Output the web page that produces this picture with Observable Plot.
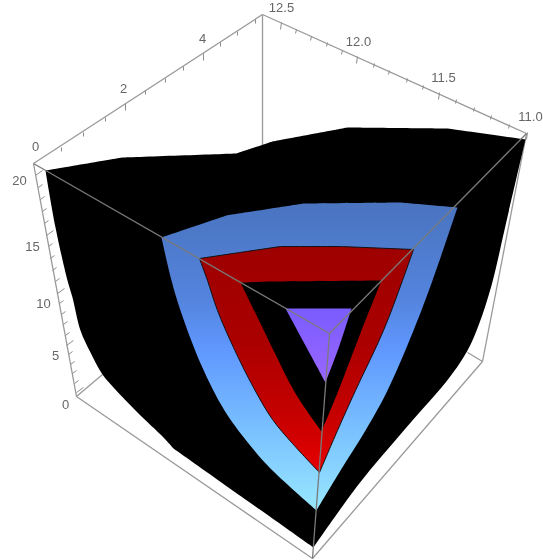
<!DOCTYPE html>
<html>
<head>
<meta charset="utf-8">
<script src="https://cdn.jsdelivr.net/npm/d3@7"></script>
<script src="https://cdn.jsdelivr.net/npm/@observablehq/plot@0.6"></script>
<style>
html,body{margin:0;padding:0;background:#fff}
svg{display:block;filter:blur(0.35px)}
</style>
</head>
<body>
<div id="chart"></div>
<script>
// Vertices read from the picture of the projected 3D box. Each outline is a list of
// smooth sides; the points where two sides meet stay sharp.
const blackSides = [
  [[45,170],[122,157]],[[122,157],[236,153]],[[236,153],[272,141]],[[272,141],[347,127]],[[347,127],[447,128]],[[447,128],[525,139]],
  [[525,139],[505,225],[491,285],[478,325],[467,350],[449,377],[405,428],[358,484],[313,547]],
  [[313,547],[272,518],[173,448]],[[173,448],[163,437],[137,412],[113,387],[102,374],[90,352],[80,330],[72,297],[67,280],[55,227],[45,170]]
];
const blueSides = [
  [[161,237],[226,215]],[[226,215],[303,203]],[[303,203],[400,202]],[[400,202],[457,207]],
  [[457,207],[432,280],[413,330],[387,390],[365,430],[340,470],[316,510]],
  [[316,510],[272,470],[253,449],[224,410],[201,365],[181,313],[171,280],[161,237]]
];
const redSides = [
  [[199,258],[280,246]],[[280,246],[340,246]],[[340,246],[413,249]],
  [[413,249],[402,280],[383,330],[355,390],[337,430],[319,472]],
  [[319,472],[292,443],[272,419],[253,387],[233,347],[217,310],[207,280],[199,258]]
];
const innerSides = [
  [[240,282],[270,281]],[[270,281],[381,280]],
  [[381,280],[361,330],[338,390],[321,431]],
  [[321,431],[295,393],[274,352],[260,323],[240,282]]
];
const purpleSides = [
  [[285,308],[351,308]],
  [[351,308],[339,345],[325,382]],
  [[325,382],[305,345],[285,308]]
];

const backEdges = [
  [[262,14],[262,146]],
  [[76,396],[102,374]],
  [[482,361],[467,352]],
  [[33,163],[76,396]],
  [[33,163],[262,14]],
  [[262,14],[526,133]],
  [[76,396],[312,558]],
  [[312,558],[482,361]],
  [[482,361],[526,133]]
];
const frontEdges = [
  [[33,163],[329,333]],
  [[526,133],[329,333]],
  [[329,333],[312,558]]
];

const leftAxisMajor = [[125,103],[203,53]];
const leftAxisMinor = [[61,147],[83,132],[105,117],[145,90],[165,78],[183,66],[220,42],[237,31],[255,19]];
const rightAxisMajor = [[281,22],[357,56],[439,92],[527,132]];
const rightAxisMinor = [[296,29],[311,36],[327,42],[342,50],[374,63],[389,70],[407,78],[423,85],[456,99],[474,107],[491,115],[509,124]];
const zAxisMajor = [[35,175],[46,235],[57,293],[66,345],[76,392]];
const zAxisMinor = [[38,187],[40,199],[42,211],[44,223],[48,246],[50,258],[52,270],[55,281],[59,303],[61,314],[63,324],[65,335],[68,354],[70,364],[72,373],[74,383]];

const tickLabels = [
  {text:"0",x:35,y:146},{text:"2",x:123,y:88},{text:"4",x:202,y:38},
  {text:"12.5",x:281,y:7},{text:"12.0",x:358,y:41},{text:"11.5",x:443,y:77},{text:"11.0",x:530,y:116},
  {text:"20",x:19,y:180},{text:"15",x:32,y:246},{text:"10",x:43,y:303},{text:"5",x:55,y:355},{text:"0",x:65,y:404}
];

const blueStops = [[205,"#4a74c0"],[300,"#5484de"],[350,"#6098ff"],[420,"#76bcff"],[510,"#98e8ff"]];
const redStops = [[246,"#9e0000"],[340,"#aa0000"],[420,"#c80000"],[472,"#e80000"]];
const purpleStops = [[308,"#7a5cff"],[382,"#9a66ff"]];

const gradients = () => {
  const defs = d3.create("svg:defs");
  const add = (id, stops) => {
    const y1 = stops[0][0], y2 = stops[stops.length-1][0];
    const g = defs.append("linearGradient").attr("id",id).attr("gradientUnits","userSpaceOnUse")
      .attr("x1",0).attr("x2",0).attr("y1",y1).attr("y2",y2);
    stops.forEach(([y,c]) => g.append("stop").attr("offset",(y-y1)/(y2-y1)).attr("stop-color",c));
  };
  add("blueGrad",blueStops); add("redGrad",redStops); add("purpleGrad",purpleStops);
  return defs.node();
};

// Doubling each side's end points makes the Catmull-Rom spline turn sharply there.
const outline = sides => sides.flatMap(s => [s[0], ...s, s[s.length-1]]);
const poly = (sides, fill, stroke="none") => Plot.line(outline(sides),{x:d=>d[0],y:d=>d[1],curve:"catmull-rom-closed",fill,stroke,strokeWidth:1});
const edges = (list, stroke, w) => Plot.link(list,{x1:d=>d[0][0],y1:d=>d[0][1],x2:d=>d[1][0],y2:d=>d[1][1],stroke,strokeWidth:w,strokeOpacity:1});
const ticks = (pts, dx, dy, w) => Plot.link(pts,{x1:d=>d[0],y1:d=>d[1],x2:d=>d[0]+dx,y2:d=>d[1]+dy,stroke:"#8c8c8c",strokeWidth:w});

const chart = Plot.plot({
  width:543,height:560,margin:0,
  x:{domain:[0,543],range:[0,543],axis:null},
  y:{domain:[0,560],range:[0,560],axis:null},
  style:{background:"#fff"},
  marks:[
    gradients,
    edges(backEdges,"#999",1.3),
    ticks(leftAxisMajor,0,7,1),
    ticks(leftAxisMinor,0,4,1),
    ticks(rightAxisMajor,-1,7,1),
    ticks(rightAxisMinor,-1,4,1),
    ticks(zAxisMajor,7,-5,1),
    ticks(zAxisMinor,4,-3,1),
    poly(blackSides,"#000"),
    poly(blueSides,"url(#blueGrad)"),
    poly(redSides,"url(#redGrad)","#111"),
    poly(innerSides,"#000"),
    poly(purpleSides,"url(#purpleGrad)"),
    edges(frontEdges,"#7a7a7a",1.3),
    Plot.text(tickLabels,{x:"x",y:"y",text:"text",fontFamily:"Liberation Sans",fontSize:13,fill:"#666"})
  ]
});
document.getElementById("chart").append(chart);
</script>
</body>
</html>
